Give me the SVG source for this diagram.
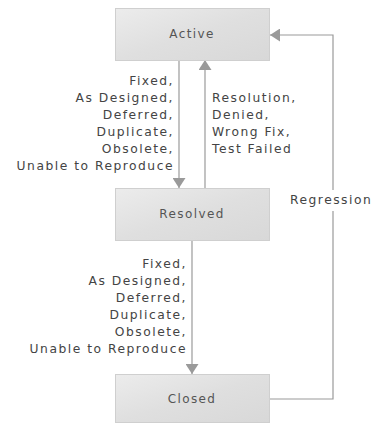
<svg xmlns="http://www.w3.org/2000/svg" width="373" height="423" viewBox="0 0 373 423">
  <style>
    .box { fill: url(#boxFill); stroke: #cfcfcf; stroke-width: 1; }
    .node-label { font-family: "DejaVu Sans", Verdana, sans-serif; font-size: 12px; fill: #555; letter-spacing: 1.4px; text-anchor: middle; }
    .lbl { font-family: "DejaVu Sans", Verdana, sans-serif; font-size: 12.3px; fill: #444; letter-spacing: 1.5px; }
    .end { text-anchor: end; }
    .edge { fill: none; stroke: #9a9a9a; stroke-width: 1.2; }
  </style>
  <defs>
    <linearGradient id="boxFill" x1="0" y1="0" x2="1" y2="1">
      <stop offset="0" stop-color="#ececec"/>
      <stop offset="0.5" stop-color="#dfdfdf"/>
      <stop offset="1" stop-color="#d8d8d8"/>
    </linearGradient>
    <marker id="arrow" viewBox="0 0 10 13" refX="10" refY="6.5" markerWidth="10" markerHeight="13" markerUnits="userSpaceOnUse" orient="auto">
      <path d="M0,0 L10,6.5 L0,13 Z" fill="#9a9a9a"/>
    </marker>
  </defs>

  <rect width="373" height="423" fill="#ffffff"/>

  <!-- connectors -->
  <g id="connectors">
    <path class="edge" d="M179,60 V188" marker-end="url(#arrow)"/>
    <path class="edge" d="M205,188 V60" marker-end="url(#arrow)"/>
    <path class="edge" d="M192,240 V374" marker-end="url(#arrow)"/>
    <path class="edge" d="M269,399 H333 V35 H270" marker-end="url(#arrow)"/>

    <g id="edge-labels">
      <text class="lbl end" x="174" y="85">Fixed,</text>
      <text class="lbl end" x="174" y="102">As Designed,</text>
      <text class="lbl end" x="174" y="119">Deferred,</text>
      <text class="lbl end" x="174" y="136">Duplicate,</text>
      <text class="lbl end" x="174" y="153">Obsolete,</text>
      <text class="lbl end" x="174" y="170">Unable to Reproduce</text>

      <text class="lbl" x="212" y="102">Resolution,</text>
      <text class="lbl" x="212" y="119">Denied,</text>
      <text class="lbl" x="212" y="136">Wrong Fix,</text>
      <text class="lbl" x="212" y="153">Test Failed</text>

      <text class="lbl end" x="187" y="268">Fixed,</text>
      <text class="lbl end" x="187" y="285">As Designed,</text>
      <text class="lbl end" x="187" y="302">Deferred,</text>
      <text class="lbl end" x="187" y="319">Duplicate,</text>
      <text class="lbl end" x="187" y="336">Obsolete,</text>
      <text class="lbl end" x="187" y="353">Unable to Reproduce</text>

      <rect x="288" y="190" width="85" height="21" fill="#ffffff"/>
      <text class="lbl" x="290" y="204">Regression</text>
    </g>
  </g>

  <!-- nodes -->
  <g id="active">
    <rect class="box" x="115.5" y="8.5" width="154" height="52"/>
    <text class="node-label" x="192" y="38">Active</text>
  </g>
  <g id="resolved">
    <rect class="box" x="115.5" y="188.5" width="154" height="52"/>
    <text class="node-label" x="192" y="218">Resolved</text>
  </g>
  <g id="closed">
    <rect class="box" x="115.5" y="374.5" width="154" height="48"/>
    <text class="node-label" x="192" y="403">Closed</text>
  </g>
</svg>
